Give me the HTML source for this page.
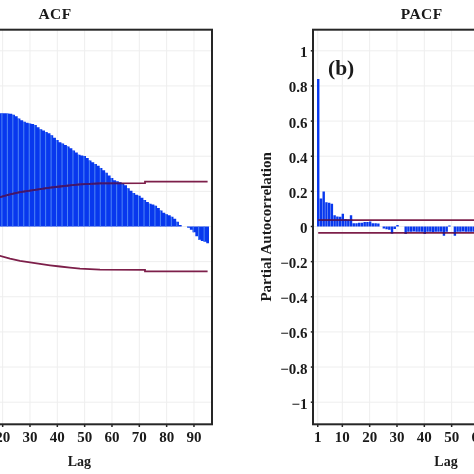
<!DOCTYPE html><html><head><meta charset="utf-8"><style>html,body{margin:0;padding:0;background:#fff;width:474px;height:474px;overflow:hidden}</style></head><body><svg width="474" height="474" viewBox="0 0 474 474" style="display:block;filter:blur(0.4px)"><rect width="474" height="474" fill="#fff"/><line x1="-54" x2="212" y1="50.80" y2="50.80" stroke="#eeeeee" stroke-width="1"/><line x1="-54" x2="212" y1="85.94" y2="85.94" stroke="#eeeeee" stroke-width="1"/><line x1="-54" x2="212" y1="121.08" y2="121.08" stroke="#eeeeee" stroke-width="1"/><line x1="-54" x2="212" y1="156.22" y2="156.22" stroke="#eeeeee" stroke-width="1"/><line x1="-54" x2="212" y1="191.36" y2="191.36" stroke="#eeeeee" stroke-width="1"/><line x1="-54" x2="212" y1="226.50" y2="226.50" stroke="#eeeeee" stroke-width="1"/><line x1="-54" x2="212" y1="261.64" y2="261.64" stroke="#eeeeee" stroke-width="1"/><line x1="-54" x2="212" y1="296.78" y2="296.78" stroke="#eeeeee" stroke-width="1"/><line x1="-54" x2="212" y1="331.92" y2="331.92" stroke="#eeeeee" stroke-width="1"/><line x1="-54" x2="212" y1="367.06" y2="367.06" stroke="#eeeeee" stroke-width="1"/><line x1="-54" x2="212" y1="402.20" y2="402.20" stroke="#eeeeee" stroke-width="1"/><line x1="-49.27" x2="-49.27" y1="29.7" y2="424.3" stroke="#eeeeee" stroke-width="1"/><line x1="-24.67" x2="-24.67" y1="29.7" y2="424.3" stroke="#eeeeee" stroke-width="1"/><line x1="2.66" x2="2.66" y1="29.7" y2="424.3" stroke="#eeeeee" stroke-width="1"/><line x1="29.99" x2="29.99" y1="29.7" y2="424.3" stroke="#eeeeee" stroke-width="1"/><line x1="57.32" x2="57.32" y1="29.7" y2="424.3" stroke="#eeeeee" stroke-width="1"/><line x1="84.65" x2="84.65" y1="29.7" y2="424.3" stroke="#eeeeee" stroke-width="1"/><line x1="111.98" x2="111.98" y1="29.7" y2="424.3" stroke="#eeeeee" stroke-width="1"/><line x1="139.31" x2="139.31" y1="29.7" y2="424.3" stroke="#eeeeee" stroke-width="1"/><line x1="166.64" x2="166.64" y1="29.7" y2="424.3" stroke="#eeeeee" stroke-width="1"/><line x1="193.97" x2="193.97" y1="29.7" y2="424.3" stroke="#eeeeee" stroke-width="1"/><line x1="313" x2="579" y1="50.80" y2="50.80" stroke="#eeeeee" stroke-width="1"/><line x1="313" x2="579" y1="85.94" y2="85.94" stroke="#eeeeee" stroke-width="1"/><line x1="313" x2="579" y1="121.08" y2="121.08" stroke="#eeeeee" stroke-width="1"/><line x1="313" x2="579" y1="156.22" y2="156.22" stroke="#eeeeee" stroke-width="1"/><line x1="313" x2="579" y1="191.36" y2="191.36" stroke="#eeeeee" stroke-width="1"/><line x1="313" x2="579" y1="226.50" y2="226.50" stroke="#eeeeee" stroke-width="1"/><line x1="313" x2="579" y1="261.64" y2="261.64" stroke="#eeeeee" stroke-width="1"/><line x1="313" x2="579" y1="296.78" y2="296.78" stroke="#eeeeee" stroke-width="1"/><line x1="313" x2="579" y1="331.92" y2="331.92" stroke="#eeeeee" stroke-width="1"/><line x1="313" x2="579" y1="367.06" y2="367.06" stroke="#eeeeee" stroke-width="1"/><line x1="313" x2="579" y1="402.20" y2="402.20" stroke="#eeeeee" stroke-width="1"/><line x1="317.73" x2="317.73" y1="29.7" y2="424.3" stroke="#eeeeee" stroke-width="1"/><line x1="342.33" x2="342.33" y1="29.7" y2="424.3" stroke="#eeeeee" stroke-width="1"/><line x1="369.66" x2="369.66" y1="29.7" y2="424.3" stroke="#eeeeee" stroke-width="1"/><line x1="396.99" x2="396.99" y1="29.7" y2="424.3" stroke="#eeeeee" stroke-width="1"/><line x1="424.32" x2="424.32" y1="29.7" y2="424.3" stroke="#eeeeee" stroke-width="1"/><line x1="451.65" x2="451.65" y1="29.7" y2="424.3" stroke="#eeeeee" stroke-width="1"/><line x1="478.98" x2="478.98" y1="29.7" y2="424.3" stroke="#eeeeee" stroke-width="1"/><line x1="506.31" x2="506.31" y1="29.7" y2="424.3" stroke="#eeeeee" stroke-width="1"/><line x1="533.64" x2="533.64" y1="29.7" y2="424.3" stroke="#eeeeee" stroke-width="1"/><line x1="560.97" x2="560.97" y1="29.7" y2="424.3" stroke="#eeeeee" stroke-width="1"/><path d="M-4.17,113.20H-1.44V226.50H-4.17ZM-1.44,113.20H1.29V226.50H-1.44ZM1.29,113.28H4.03V226.50H1.29ZM4.03,113.36H6.76V226.50H4.03ZM6.76,113.44H9.49V226.50H6.76ZM9.49,113.79H12.23V226.50H9.49ZM12.23,114.72H14.96V226.50H12.23ZM14.96,116.31H17.69V226.50H14.96ZM17.69,118.61H20.42V226.50H17.69ZM20.42,120.33H23.16V226.50H20.42ZM23.16,121.75H25.89V226.50H23.16ZM25.89,122.72H28.62V226.50H25.89ZM28.62,123.60H31.36V226.50H28.62ZM31.36,124.09H34.09V226.50H31.36ZM34.09,124.88H36.82V226.50H34.09ZM36.82,127.18H39.56V226.50H36.82ZM39.56,129.16H42.29V226.50H39.56ZM42.29,130.53H45.02V226.50H42.29ZM45.02,131.92H47.75V226.50H45.02ZM47.75,133.34H50.49V226.50H47.75ZM50.49,135.36H53.22V226.50H50.49ZM53.22,137.65H55.95V226.50H53.22ZM55.95,139.95H58.69V226.50H55.95ZM58.69,142.23H61.42V226.50H58.69ZM61.42,143.59H64.15V226.50H61.42ZM64.15,144.99H66.89V226.50H64.15ZM66.89,146.52H69.62V226.50H66.89ZM69.62,148.29H72.35V226.50H69.62ZM72.35,150.47H75.08V226.50H72.35ZM75.08,152.60H77.82V226.50H75.08ZM77.82,154.68H80.55V226.50H77.82ZM80.55,155.57H83.28V226.50H80.55ZM83.28,155.95H86.02V226.50H83.28ZM86.02,158.05H88.75V226.50H86.02ZM88.75,160.38H91.48V226.50H88.75ZM91.48,162.18H94.22V226.50H91.48ZM94.22,164.00H96.95V226.50H94.22ZM96.95,165.85H99.68V226.50H96.95ZM99.68,167.88H102.41V226.50H99.68ZM102.41,170.18H105.15V226.50H102.41ZM105.15,172.74H107.88V226.50H105.15ZM107.88,175.53H110.61V226.50H107.88ZM110.61,177.96H113.35V226.50H110.61ZM113.35,180.26H116.08V226.50H113.35ZM116.08,181.33H118.81V226.50H116.08ZM118.81,182.29H121.55V226.50H118.81ZM121.55,183.66H124.28V226.50H121.55ZM124.28,185.36H127.01V226.50H124.28ZM127.01,188.15H129.74V226.50H127.01ZM129.74,190.73H132.48V226.50H129.74ZM132.48,193.03H135.21V226.50H132.48ZM135.21,194.63H137.94V226.50H135.21ZM137.94,195.72H140.68V226.50H137.94ZM140.68,197.76H143.41V226.50H140.68ZM143.41,200.11H146.14V226.50H143.41ZM146.14,201.96H148.88V226.50H146.14ZM148.88,203.67H151.61V226.50H148.88ZM151.61,204.43H154.34V226.50H151.61ZM154.34,205.64H157.07V226.50H154.34ZM157.07,208.10H159.81V226.50H157.07ZM159.81,210.51H162.54V226.50H159.81ZM162.54,212.86H165.27V226.50H162.54ZM165.27,214.32H168.01V226.50H165.27ZM168.01,215.20H170.74V226.50H168.01ZM170.74,216.83H173.47V226.50H170.74ZM173.47,218.69H176.21V226.50H173.47ZM176.21,221.83H178.94V226.50H176.21ZM178.94,224.88H181.67V226.50H178.94ZM187.14,226.50H189.87V227.75H187.14ZM189.87,226.50H192.60V229.69H189.87ZM192.60,226.50H195.34V232.31H192.60ZM195.34,226.50H198.07V236.37H195.34ZM198.07,226.50H200.80V239.85H198.07ZM200.80,226.50H203.54V240.99H200.80ZM203.54,226.50H206.27V241.87H203.54ZM206.27,226.50H209.00V243.31H206.27Z" fill="#0838ee"/><rect x="-4.07" y="113.20" width="1.0" height="113.30" fill="#4f86f5"/><rect x="1.39" y="113.28" width="1.0" height="113.22" fill="#4f86f5"/><rect x="6.86" y="113.44" width="1.0" height="113.06" fill="#4f86f5"/><rect x="12.33" y="114.72" width="1.0" height="111.78" fill="#4f86f5"/><rect x="17.79" y="118.61" width="1.0" height="107.89" fill="#4f86f5"/><rect x="23.26" y="121.75" width="1.0" height="104.75" fill="#4f86f5"/><rect x="28.72" y="123.60" width="1.0" height="102.90" fill="#4f86f5"/><rect x="34.19" y="124.88" width="1.0" height="101.62" fill="#4f86f5"/><rect x="39.66" y="129.16" width="1.0" height="97.34" fill="#4f86f5"/><rect x="45.12" y="131.92" width="1.0" height="94.58" fill="#4f86f5"/><rect x="50.59" y="135.36" width="1.0" height="91.14" fill="#4f86f5"/><rect x="56.05" y="139.95" width="1.0" height="86.55" fill="#4f86f5"/><rect x="61.52" y="143.59" width="1.0" height="82.91" fill="#4f86f5"/><rect x="66.99" y="146.52" width="1.0" height="79.98" fill="#4f86f5"/><rect x="72.45" y="150.47" width="1.0" height="76.03" fill="#4f86f5"/><rect x="77.92" y="154.68" width="1.0" height="71.82" fill="#4f86f5"/><rect x="83.38" y="155.95" width="1.0" height="70.55" fill="#4f86f5"/><rect x="88.85" y="160.38" width="1.0" height="66.12" fill="#4f86f5"/><rect x="94.32" y="164.00" width="1.0" height="62.50" fill="#4f86f5"/><rect x="99.78" y="167.88" width="1.0" height="58.62" fill="#4f86f5"/><rect x="105.25" y="172.74" width="1.0" height="53.76" fill="#4f86f5"/><rect x="110.71" y="177.96" width="1.0" height="48.54" fill="#4f86f5"/><rect x="116.18" y="181.33" width="1.0" height="45.17" fill="#4f86f5"/><rect x="121.65" y="183.66" width="1.0" height="42.84" fill="#4f86f5"/><rect x="127.11" y="188.15" width="1.0" height="38.35" fill="#4f86f5"/><rect x="132.58" y="193.03" width="1.0" height="33.47" fill="#4f86f5"/><rect x="138.04" y="195.72" width="1.0" height="30.78" fill="#4f86f5"/><rect x="143.51" y="200.11" width="1.0" height="26.39" fill="#4f86f5"/><rect x="148.98" y="203.67" width="1.0" height="22.83" fill="#4f86f5"/><rect x="154.44" y="205.64" width="1.0" height="20.86" fill="#4f86f5"/><rect x="159.91" y="210.51" width="1.0" height="15.99" fill="#4f86f5"/><rect x="165.37" y="214.32" width="1.0" height="12.18" fill="#4f86f5"/><rect x="170.84" y="216.83" width="1.0" height="9.67" fill="#4f86f5"/><rect x="176.31" y="221.83" width="1.0" height="4.67" fill="#4f86f5"/><rect x="187.24" y="226.50" width="1.0" height="1.25" fill="#4f86f5"/><rect x="192.70" y="226.50" width="1.0" height="5.81" fill="#4f86f5"/><rect x="198.17" y="226.50" width="1.0" height="13.35" fill="#4f86f5"/><rect x="203.64" y="226.50" width="1.0" height="15.37" fill="#4f86f5"/><polyline points="-60.00,201.00 0.00,197.20 10.00,194.40 20.00,192.10 30.00,190.70 40.00,189.10 50.00,187.70 60.00,186.50 70.00,185.40 80.00,184.40 90.00,183.80 100.00,183.30 145.00,183.10 145.01,181.70 207.60,181.70" fill="none" stroke="#7d1f4a" stroke-width="1.8"/><polyline points="-60.00,252.00 0.00,255.80 10.00,258.60 20.00,260.90 30.00,262.30 40.00,263.90 50.00,265.30 60.00,266.50 70.00,267.60 80.00,268.60 90.00,269.20 100.00,269.70 145.00,269.90 145.01,271.30 207.60,271.30" fill="none" stroke="#7d1f4a" stroke-width="1.8"/><clipPath id="cb"><rect x="-4.17" y="113.20" width="2.73" height="113.30"/><rect x="-1.44" y="113.20" width="2.73" height="113.30"/><rect x="1.29" y="113.28" width="2.73" height="113.22"/><rect x="4.03" y="113.36" width="2.73" height="113.14"/><rect x="6.76" y="113.44" width="2.73" height="113.06"/><rect x="9.49" y="113.79" width="2.73" height="112.71"/><rect x="12.23" y="114.72" width="2.73" height="111.78"/><rect x="14.96" y="116.31" width="2.73" height="110.19"/><rect x="17.69" y="118.61" width="2.73" height="107.89"/><rect x="20.42" y="120.33" width="2.73" height="106.17"/><rect x="23.16" y="121.75" width="2.73" height="104.75"/><rect x="25.89" y="122.72" width="2.73" height="103.78"/><rect x="28.62" y="123.60" width="2.73" height="102.90"/><rect x="31.36" y="124.09" width="2.73" height="102.41"/><rect x="34.09" y="124.88" width="2.73" height="101.62"/><rect x="36.82" y="127.18" width="2.73" height="99.32"/><rect x="39.56" y="129.16" width="2.73" height="97.34"/><rect x="42.29" y="130.53" width="2.73" height="95.97"/><rect x="45.02" y="131.92" width="2.73" height="94.58"/><rect x="47.75" y="133.34" width="2.73" height="93.16"/><rect x="50.49" y="135.36" width="2.73" height="91.14"/><rect x="53.22" y="137.65" width="2.73" height="88.85"/><rect x="55.95" y="139.95" width="2.73" height="86.55"/><rect x="58.69" y="142.23" width="2.73" height="84.27"/><rect x="61.42" y="143.59" width="2.73" height="82.91"/><rect x="64.15" y="144.99" width="2.73" height="81.51"/><rect x="66.89" y="146.52" width="2.73" height="79.98"/><rect x="69.62" y="148.29" width="2.73" height="78.21"/><rect x="72.35" y="150.47" width="2.73" height="76.03"/><rect x="75.08" y="152.60" width="2.73" height="73.90"/><rect x="77.82" y="154.68" width="2.73" height="71.82"/><rect x="80.55" y="155.57" width="2.73" height="70.93"/><rect x="83.28" y="155.95" width="2.73" height="70.55"/><rect x="86.02" y="158.05" width="2.73" height="68.45"/><rect x="88.75" y="160.38" width="2.73" height="66.12"/><rect x="91.48" y="162.18" width="2.73" height="64.32"/><rect x="94.22" y="164.00" width="2.73" height="62.50"/><rect x="96.95" y="165.85" width="2.73" height="60.65"/><rect x="99.68" y="167.88" width="2.73" height="58.62"/><rect x="102.41" y="170.18" width="2.73" height="56.32"/><rect x="105.15" y="172.74" width="2.73" height="53.76"/><rect x="107.88" y="175.53" width="2.73" height="50.97"/><rect x="110.61" y="177.96" width="2.73" height="48.54"/><rect x="113.35" y="180.26" width="2.73" height="46.24"/><rect x="116.08" y="181.33" width="2.73" height="45.17"/><rect x="118.81" y="182.29" width="2.73" height="44.21"/><rect x="121.55" y="183.66" width="2.73" height="42.84"/><rect x="124.28" y="185.36" width="2.73" height="41.14"/><rect x="127.01" y="188.15" width="2.73" height="38.35"/><rect x="129.74" y="190.73" width="2.73" height="35.77"/><rect x="132.48" y="193.03" width="2.73" height="33.47"/><rect x="135.21" y="194.63" width="2.73" height="31.87"/><rect x="137.94" y="195.72" width="2.73" height="30.78"/><rect x="140.68" y="197.76" width="2.73" height="28.74"/><rect x="143.41" y="200.11" width="2.73" height="26.39"/><rect x="146.14" y="201.96" width="2.73" height="24.54"/><rect x="148.88" y="203.67" width="2.73" height="22.83"/><rect x="151.61" y="204.43" width="2.73" height="22.07"/><rect x="154.34" y="205.64" width="2.73" height="20.86"/><rect x="157.07" y="208.10" width="2.73" height="18.40"/><rect x="159.81" y="210.51" width="2.73" height="15.99"/><rect x="162.54" y="212.86" width="2.73" height="13.64"/><rect x="165.27" y="214.32" width="2.73" height="12.18"/><rect x="168.01" y="215.20" width="2.73" height="11.30"/><rect x="170.74" y="216.83" width="2.73" height="9.67"/><rect x="173.47" y="218.69" width="2.73" height="7.81"/><rect x="176.21" y="221.83" width="2.73" height="4.67"/><rect x="178.94" y="224.88" width="2.73" height="1.62"/><rect x="187.14" y="226.50" width="2.73" height="1.25"/><rect x="189.87" y="226.50" width="2.73" height="3.19"/><rect x="192.60" y="226.50" width="2.73" height="5.81"/><rect x="195.34" y="226.50" width="2.73" height="9.87"/><rect x="198.07" y="226.50" width="2.73" height="13.35"/><rect x="200.80" y="226.50" width="2.73" height="14.49"/><rect x="203.54" y="226.50" width="2.73" height="15.37"/><rect x="206.27" y="226.50" width="2.73" height="16.81"/></clipPath><polyline points="-60.00,201.00 0.00,197.20 10.00,194.40 20.00,192.10 30.00,190.70 40.00,189.10 50.00,187.70 60.00,186.50 70.00,185.40 80.00,184.40 90.00,183.80 100.00,183.30 145.00,183.10 145.01,181.70 207.60,181.70" fill="none" stroke="#3a1670" stroke-width="1.8" clip-path="url(#cb)"/><path d="M317.03,79.09h2.4V226.50h-2.4ZM319.77,198.56h2.4V226.50h-2.4ZM322.50,191.54h2.4V226.50h-2.4ZM325.23,202.25h2.4V226.50h-2.4ZM327.97,202.78h2.4V226.50h-2.4ZM330.70,203.66h2.4V226.50h-2.4ZM333.43,215.26h2.4V226.50h-2.4ZM336.16,216.49h2.4V226.50h-2.4ZM338.90,216.84h2.4V226.50h-2.4ZM341.63,213.85h2.4V226.50h-2.4ZM344.36,218.94h2.4V226.50h-2.4ZM347.10,219.47h2.4V226.50h-2.4ZM349.83,215.26h2.4V226.50h-2.4ZM352.56,223.16h2.4V226.50h-2.4ZM355.30,223.16h2.4V226.50h-2.4ZM358.03,222.63h2.4V226.50h-2.4ZM360.76,222.63h2.4V226.50h-2.4ZM363.49,222.11h2.4V226.50h-2.4ZM366.23,222.11h2.4V226.50h-2.4ZM368.96,221.58h2.4V226.50h-2.4ZM371.69,223.16h2.4V226.50h-2.4ZM374.43,223.16h2.4V226.50h-2.4ZM377.16,223.51h2.4V226.50h-2.4ZM382.62,226.50h2.4V228.61h-2.4ZM385.36,226.50h2.4V229.14h-2.4ZM388.09,226.50h2.4V229.66h-2.4ZM390.82,226.50h2.4V233.53h-2.4ZM393.56,226.50h2.4V228.96h-2.4ZM396.29,225.09h2.4V226.50h-2.4ZM404.49,226.50h2.4V233.88h-2.4ZM407.22,226.50h2.4V231.77h-2.4ZM409.95,226.50h2.4V231.77h-2.4ZM412.69,226.50h2.4V231.42h-2.4ZM415.42,226.50h2.4V231.77h-2.4ZM418.15,226.50h2.4V231.77h-2.4ZM420.89,226.50h2.4V231.77h-2.4ZM423.62,226.50h2.4V233.88h-2.4ZM426.35,226.50h2.4V231.77h-2.4ZM429.09,226.50h2.4V231.77h-2.4ZM431.82,226.50h2.4V232.12h-2.4ZM434.55,226.50h2.4V231.77h-2.4ZM437.29,226.50h2.4V231.77h-2.4ZM440.02,226.50h2.4V231.77h-2.4ZM442.75,226.50h2.4V235.64h-2.4ZM445.48,226.50h2.4V231.77h-2.4ZM448.22,225.45h2.4V226.50h-2.4ZM453.68,226.50h2.4V235.64h-2.4ZM456.42,226.50h2.4V231.77h-2.4ZM459.15,226.50h2.4V231.77h-2.4ZM461.88,226.50h2.4V231.42h-2.4ZM464.62,226.50h2.4V231.77h-2.4ZM467.35,226.50h2.4V231.77h-2.4ZM470.08,226.50h2.4V231.77h-2.4ZM472.81,226.50h2.4V231.77h-2.4ZM475.55,226.50h2.4V231.77h-2.4ZM478.28,226.50h2.4V231.77h-2.4Z" fill="#0838ee"/><line x1="318.2" x2="579" y1="220.1" y2="220.1" stroke="#7d1f4a" stroke-width="1.8"/><line x1="318.2" x2="579" y1="232.9" y2="232.9" stroke="#7d1f4a" stroke-width="1.8"/><clipPath id="cp"><path d="M317.03,79.09h2.4V226.50h-2.4ZM319.77,198.56h2.4V226.50h-2.4ZM322.50,191.54h2.4V226.50h-2.4ZM325.23,202.25h2.4V226.50h-2.4ZM327.97,202.78h2.4V226.50h-2.4ZM330.70,203.66h2.4V226.50h-2.4ZM333.43,215.26h2.4V226.50h-2.4ZM336.16,216.49h2.4V226.50h-2.4ZM338.90,216.84h2.4V226.50h-2.4ZM341.63,213.85h2.4V226.50h-2.4ZM344.36,218.94h2.4V226.50h-2.4ZM347.10,219.47h2.4V226.50h-2.4ZM349.83,215.26h2.4V226.50h-2.4ZM352.56,223.16h2.4V226.50h-2.4ZM355.30,223.16h2.4V226.50h-2.4ZM358.03,222.63h2.4V226.50h-2.4ZM360.76,222.63h2.4V226.50h-2.4ZM363.49,222.11h2.4V226.50h-2.4ZM366.23,222.11h2.4V226.50h-2.4ZM368.96,221.58h2.4V226.50h-2.4ZM371.69,223.16h2.4V226.50h-2.4ZM374.43,223.16h2.4V226.50h-2.4ZM377.16,223.51h2.4V226.50h-2.4ZM382.62,226.50h2.4V228.61h-2.4ZM385.36,226.50h2.4V229.14h-2.4ZM388.09,226.50h2.4V229.66h-2.4ZM390.82,226.50h2.4V233.53h-2.4ZM393.56,226.50h2.4V228.96h-2.4ZM396.29,225.09h2.4V226.50h-2.4ZM404.49,226.50h2.4V233.88h-2.4ZM407.22,226.50h2.4V231.77h-2.4ZM409.95,226.50h2.4V231.77h-2.4ZM412.69,226.50h2.4V231.42h-2.4ZM415.42,226.50h2.4V231.77h-2.4ZM418.15,226.50h2.4V231.77h-2.4ZM420.89,226.50h2.4V231.77h-2.4ZM423.62,226.50h2.4V233.88h-2.4ZM426.35,226.50h2.4V231.77h-2.4ZM429.09,226.50h2.4V231.77h-2.4ZM431.82,226.50h2.4V232.12h-2.4ZM434.55,226.50h2.4V231.77h-2.4ZM437.29,226.50h2.4V231.77h-2.4ZM440.02,226.50h2.4V231.77h-2.4ZM442.75,226.50h2.4V235.64h-2.4ZM445.48,226.50h2.4V231.77h-2.4ZM448.22,225.45h2.4V226.50h-2.4ZM453.68,226.50h2.4V235.64h-2.4ZM456.42,226.50h2.4V231.77h-2.4ZM459.15,226.50h2.4V231.77h-2.4ZM461.88,226.50h2.4V231.42h-2.4ZM464.62,226.50h2.4V231.77h-2.4ZM467.35,226.50h2.4V231.77h-2.4ZM470.08,226.50h2.4V231.77h-2.4ZM472.81,226.50h2.4V231.77h-2.4ZM475.55,226.50h2.4V231.77h-2.4ZM478.28,226.50h2.4V231.77h-2.4Z"/></clipPath><line x1="318.2" x2="579" y1="220.1" y2="220.1" stroke="#3a1670" stroke-width="1.8" clip-path="url(#cp)"/><line x1="318.2" x2="579" y1="232.9" y2="232.9" stroke="#3a1670" stroke-width="1.8" clip-path="url(#cp)"/><rect x="-54" y="29.7" width="266" height="394.6" fill="none" stroke="#262626" stroke-width="2"/><rect x="313" y="29.7" width="266" height="394.6" fill="none" stroke="#262626" stroke-width="2"/><line x1="-49.27" x2="-49.27" y1="424.3" y2="427" stroke="#262626" stroke-width="1.5"/><line x1="-24.67" x2="-24.67" y1="424.3" y2="427" stroke="#262626" stroke-width="1.5"/><line x1="2.66" x2="2.66" y1="424.3" y2="427" stroke="#262626" stroke-width="1.5"/><line x1="29.99" x2="29.99" y1="424.3" y2="427" stroke="#262626" stroke-width="1.5"/><line x1="57.32" x2="57.32" y1="424.3" y2="427" stroke="#262626" stroke-width="1.5"/><line x1="84.65" x2="84.65" y1="424.3" y2="427" stroke="#262626" stroke-width="1.5"/><line x1="111.98" x2="111.98" y1="424.3" y2="427" stroke="#262626" stroke-width="1.5"/><line x1="139.31" x2="139.31" y1="424.3" y2="427" stroke="#262626" stroke-width="1.5"/><line x1="166.64" x2="166.64" y1="424.3" y2="427" stroke="#262626" stroke-width="1.5"/><line x1="193.97" x2="193.97" y1="424.3" y2="427" stroke="#262626" stroke-width="1.5"/><line x1="317.73" x2="317.73" y1="424.3" y2="427" stroke="#262626" stroke-width="1.5"/><line x1="342.33" x2="342.33" y1="424.3" y2="427" stroke="#262626" stroke-width="1.5"/><line x1="369.66" x2="369.66" y1="424.3" y2="427" stroke="#262626" stroke-width="1.5"/><line x1="396.99" x2="396.99" y1="424.3" y2="427" stroke="#262626" stroke-width="1.5"/><line x1="424.32" x2="424.32" y1="424.3" y2="427" stroke="#262626" stroke-width="1.5"/><line x1="451.65" x2="451.65" y1="424.3" y2="427" stroke="#262626" stroke-width="1.5"/><line x1="478.98" x2="478.98" y1="424.3" y2="427" stroke="#262626" stroke-width="1.5"/><line x1="506.31" x2="506.31" y1="424.3" y2="427" stroke="#262626" stroke-width="1.5"/><line x1="533.64" x2="533.64" y1="424.3" y2="427" stroke="#262626" stroke-width="1.5"/><line x1="560.97" x2="560.97" y1="424.3" y2="427" stroke="#262626" stroke-width="1.5"/><line x1="310.8" x2="313" y1="50.80" y2="50.80" stroke="#262626" stroke-width="1.5"/><line x1="310.8" x2="313" y1="85.94" y2="85.94" stroke="#262626" stroke-width="1.5"/><line x1="310.8" x2="313" y1="121.08" y2="121.08" stroke="#262626" stroke-width="1.5"/><line x1="310.8" x2="313" y1="156.22" y2="156.22" stroke="#262626" stroke-width="1.5"/><line x1="310.8" x2="313" y1="191.36" y2="191.36" stroke="#262626" stroke-width="1.5"/><line x1="310.8" x2="313" y1="226.50" y2="226.50" stroke="#262626" stroke-width="1.5"/><line x1="310.8" x2="313" y1="261.64" y2="261.64" stroke="#262626" stroke-width="1.5"/><line x1="310.8" x2="313" y1="296.78" y2="296.78" stroke="#262626" stroke-width="1.5"/><line x1="310.8" x2="313" y1="331.92" y2="331.92" stroke="#262626" stroke-width="1.5"/><line x1="310.8" x2="313" y1="367.06" y2="367.06" stroke="#262626" stroke-width="1.5"/><line x1="310.8" x2="313" y1="402.20" y2="402.20" stroke="#262626" stroke-width="1.5"/><text x="-49.27" y="442.3" font-family="Liberation Serif" font-weight="bold" font-size="15" text-anchor="middle" fill="#1a1a1a">1</text><text x="-24.67" y="442.3" font-family="Liberation Serif" font-weight="bold" font-size="15" text-anchor="middle" fill="#1a1a1a">10</text><text x="2.66" y="442.3" font-family="Liberation Serif" font-weight="bold" font-size="15" text-anchor="middle" fill="#1a1a1a">20</text><text x="29.99" y="442.3" font-family="Liberation Serif" font-weight="bold" font-size="15" text-anchor="middle" fill="#1a1a1a">30</text><text x="57.32" y="442.3" font-family="Liberation Serif" font-weight="bold" font-size="15" text-anchor="middle" fill="#1a1a1a">40</text><text x="84.65" y="442.3" font-family="Liberation Serif" font-weight="bold" font-size="15" text-anchor="middle" fill="#1a1a1a">50</text><text x="111.98" y="442.3" font-family="Liberation Serif" font-weight="bold" font-size="15" text-anchor="middle" fill="#1a1a1a">60</text><text x="139.31" y="442.3" font-family="Liberation Serif" font-weight="bold" font-size="15" text-anchor="middle" fill="#1a1a1a">70</text><text x="166.64" y="442.3" font-family="Liberation Serif" font-weight="bold" font-size="15" text-anchor="middle" fill="#1a1a1a">80</text><text x="193.97" y="442.3" font-family="Liberation Serif" font-weight="bold" font-size="15" text-anchor="middle" fill="#1a1a1a">90</text><text x="317.73" y="442.3" font-family="Liberation Serif" font-weight="bold" font-size="15" text-anchor="middle" fill="#1a1a1a">1</text><text x="342.33" y="442.3" font-family="Liberation Serif" font-weight="bold" font-size="15" text-anchor="middle" fill="#1a1a1a">10</text><text x="369.66" y="442.3" font-family="Liberation Serif" font-weight="bold" font-size="15" text-anchor="middle" fill="#1a1a1a">20</text><text x="396.99" y="442.3" font-family="Liberation Serif" font-weight="bold" font-size="15" text-anchor="middle" fill="#1a1a1a">30</text><text x="424.32" y="442.3" font-family="Liberation Serif" font-weight="bold" font-size="15" text-anchor="middle" fill="#1a1a1a">40</text><text x="451.65" y="442.3" font-family="Liberation Serif" font-weight="bold" font-size="15" text-anchor="middle" fill="#1a1a1a">50</text><text x="478.98" y="442.3" font-family="Liberation Serif" font-weight="bold" font-size="15" text-anchor="middle" fill="#1a1a1a">60</text><text x="506.31" y="442.3" font-family="Liberation Serif" font-weight="bold" font-size="15" text-anchor="middle" fill="#1a1a1a">70</text><text x="533.64" y="442.3" font-family="Liberation Serif" font-weight="bold" font-size="15" text-anchor="middle" fill="#1a1a1a">80</text><text x="560.97" y="442.3" font-family="Liberation Serif" font-weight="bold" font-size="15" text-anchor="middle" fill="#1a1a1a">90</text><text x="307.5" y="57.30" font-family="Liberation Serif" font-weight="bold" font-size="15" text-anchor="end" fill="#1a1a1a">1</text><text x="307.5" y="92.44" font-family="Liberation Serif" font-weight="bold" font-size="15" text-anchor="end" fill="#1a1a1a">0.8</text><text x="307.5" y="127.58" font-family="Liberation Serif" font-weight="bold" font-size="15" text-anchor="end" fill="#1a1a1a">0.6</text><text x="307.5" y="162.72" font-family="Liberation Serif" font-weight="bold" font-size="15" text-anchor="end" fill="#1a1a1a">0.4</text><text x="307.5" y="197.86" font-family="Liberation Serif" font-weight="bold" font-size="15" text-anchor="end" fill="#1a1a1a">0.2</text><text x="307.5" y="233.00" font-family="Liberation Serif" font-weight="bold" font-size="15" text-anchor="end" fill="#1a1a1a">0</text><text x="307.5" y="268.14" font-family="Liberation Serif" font-weight="bold" font-size="15" text-anchor="end" fill="#1a1a1a">−0.2</text><text x="307.5" y="303.28" font-family="Liberation Serif" font-weight="bold" font-size="15" text-anchor="end" fill="#1a1a1a">−0.4</text><text x="307.5" y="338.42" font-family="Liberation Serif" font-weight="bold" font-size="15" text-anchor="end" fill="#1a1a1a">−0.6</text><text x="307.5" y="373.56" font-family="Liberation Serif" font-weight="bold" font-size="15" text-anchor="end" fill="#1a1a1a">−0.8</text><text x="307.5" y="408.70" font-family="Liberation Serif" font-weight="bold" font-size="15" text-anchor="end" fill="#1a1a1a">−1</text><text x="55" y="19" font-family="Liberation Serif" font-weight="bold" font-size="15.5" letter-spacing="0.4" text-anchor="middle" fill="#1a1a1a">ACF</text><text x="421.7" y="19" font-family="Liberation Serif" font-weight="bold" font-size="15.5" letter-spacing="0.4" text-anchor="middle" fill="#1a1a1a">PACF</text><text x="79.4" y="465.5" font-family="Liberation Serif" font-weight="bold" font-size="14" text-anchor="middle" fill="#1a1a1a">Lag</text><text x="446" y="465.5" font-family="Liberation Serif" font-weight="bold" font-size="14" text-anchor="middle" fill="#1a1a1a">Lag</text><text x="328" y="74.7" font-family="Liberation Serif" font-weight="bold" font-size="21.5" fill="#1a1a1a">(b)</text><text transform="translate(270.8,226.9) rotate(-90)" font-family="Liberation Serif" font-weight="bold" font-size="15" text-anchor="middle" fill="#1a1a1a">Partial Autocorrelation</text></svg></body></html>
